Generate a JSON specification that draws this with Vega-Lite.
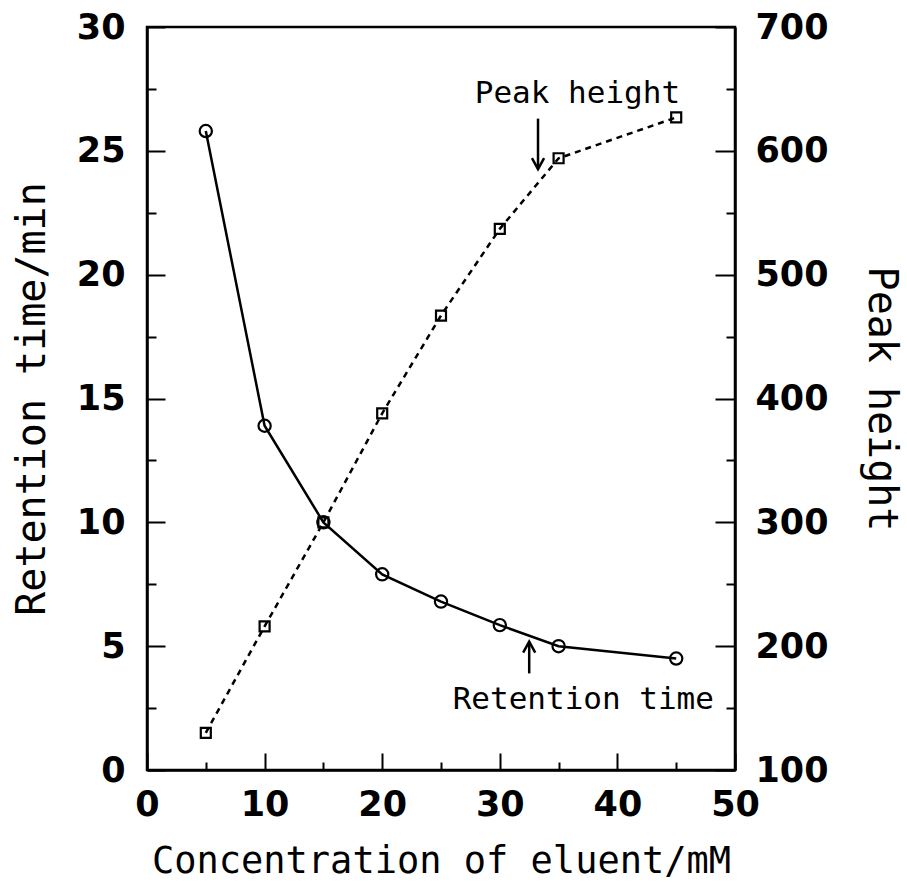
{
  "$schema": "https://vega.github.io/schema/vega-lite/v6.json",
  "width": 588,
  "height": 743,
  "autosize": {"type": "none"},
  "padding": {"left": 147, "top": 27, "right": 172, "bottom": 121},
  "background": "white",
  "config": {
    "view": {"stroke": "black", "strokeWidth": 2.5},
    "axis": {
      "grid": false,
      "domainColor": "black",
      "domainWidth": 2.5,
      "tickColor": "black",
      "tickWidth": 2,
      "labelFont": "DejaVu Sans",
      "labelFontWeight": "bold",
      "labelFontSize": 35,
      "labelColor": "black",
      "labelFlush": false,
      "labelOverlap": false,
      "labelBound": false,
      "titleFont": "DejaVu Sans Mono",
      "titleFontWeight": "normal",
      "titleColor": "black"
    }
  },
  "datasets": {
    "series": [
      {"conc": 5, "rt": 25.8, "ph": 130},
      {"conc": 10, "rt": 13.9, "ph": 216},
      {"conc": 15, "rt": 10.0, "ph": 300},
      {"conc": 20, "rt": 7.9, "ph": 388},
      {"conc": 25, "rt": 6.8, "ph": 467},
      {"conc": 30, "rt": 5.85, "ph": 537},
      {"conc": 35, "rt": 5.0, "ph": 594},
      {"conc": 45, "rt": 4.5, "ph": 627}
    ],
    "arrows": [
      {"conc": 33.25, "rt": 26.3, "rt2": 24.26, "dir": "down"},
      {"conc": 32.5, "rt": 3.9, "rt2": 5.18, "dir": "up"}
    ],
    "notes": [
      {"conc": 36.6, "rt": 27.3, "text": "Peak height"},
      {"conc": 37.1, "rt": 2.83, "text": "Retention time"}
    ]
  },
  "encoding": {
    "x": {
      "field": "conc",
      "type": "quantitative",
      "scale": {"domain": [0, 50], "nice": false},
      "axis": {
        "values": [0, 5, 10, 15, 20, 25, 30, 35, 40, 45, 50],
        "tickSize": {"condition": {"test": "datum.value % 10 === 0", "value": -17}, "value": -8},
        "labelExpr": "datum.value % 10 === 0 ? datum.label : ''",
        "labelPadding": 34,
        "title": "Concentration of eluent/mM",
        "titleFontSize": 37,
        "titlePadding": 12
      }
    }
  },
  "layer": [
    {
      "encoding": {
        "y": {
          "field": "rt",
          "type": "quantitative",
          "scale": {"domain": [0, 30], "nice": false},
          "axis": {
            "orient": "left",
            "values": [0, 2.5, 5, 7.5, 10, 12.5, 15, 17.5, 20, 22.5, 25, 27.5, 30],
            "tickSize": {"condition": {"test": "datum.value % 5 === 0", "value": -18}, "value": -9},
            "labelExpr": "datum.value % 5 === 0 ? datum.label : ''",
            "labelPadding": 40,
            "title": "Retention time/min",
            "titleFontSize": 40,
            "titlePadding": 24
          }
        }
      },
      "layer": [
        {
          "data": {"name": "series"},
          "mark": {"type": "line", "color": "black", "strokeWidth": 2.5},
          "encoding": {}
        },
        {
          "data": {"name": "series"},
          "mark": {"type": "point", "shape": "circle", "filled": false, "color": "black", "strokeWidth": 2.2, "size": 150, "opacity": 1},
          "encoding": {}
        },
        {
          "data": {"name": "arrows"},
          "mark": {"type": "rule", "color": "black", "strokeWidth": 2.5},
          "encoding": {"y2": {"field": "rt2"}}
        },
        {
          "data": {"name": "arrows"},
          "transform": [{"filter": "datum.dir === 'down'"}],
          "mark": {"type": "point", "shape": "M-0.55,-1L0,0L0.55,-1", "filled": false, "color": "black", "strokeWidth": 2.5, "size": 484, "opacity": 1},
          "encoding": {"y": {"field": "rt2", "type": "quantitative"}}
        },
        {
          "data": {"name": "arrows"},
          "transform": [{"filter": "datum.dir === 'up'"}],
          "mark": {"type": "point", "shape": "M-0.55,1L0,0L0.55,1", "filled": false, "color": "black", "strokeWidth": 2.5, "size": 484, "opacity": 1},
          "encoding": {"y": {"field": "rt2", "type": "quantitative"}}
        },
        {
          "data": {"name": "notes"},
          "mark": {"type": "text", "font": "DejaVu Sans Mono", "fontSize": 31, "color": "black", "align": "center", "baseline": "middle"},
          "encoding": {"text": {"field": "text"}}
        }
      ]
    },
    {
      "data": {"name": "series"},
      "encoding": {
        "y": {
          "field": "ph",
          "type": "quantitative",
          "scale": {"domain": [100, 700], "nice": false},
          "axis": {
            "orient": "right",
            "values": [100, 150, 200, 250, 300, 350, 400, 450, 500, 550, 600, 650, 700],
            "tickSize": {"condition": {"test": "datum.value % 100 === 0", "value": -20}, "value": -9},
            "labelExpr": "datum.value % 100 === 0 ? datum.label : ''",
            "labelPadding": 40,
            "title": "Peak height",
            "titleFontSize": 40,
            "titlePadding": 32
          }
        }
      },
      "layer": [
        {
          "mark": {"type": "line", "color": "black", "strokeWidth": 2.5, "strokeDash": [6, 5]},
          "encoding": {}
        },
        {
          "mark": {"type": "point", "shape": "square", "filled": false, "color": "black", "strokeWidth": 2.2, "size": 100, "opacity": 1},
          "encoding": {}
        }
      ]
    }
  ],
  "resolve": {"scale": {"y": "independent"}}
}
